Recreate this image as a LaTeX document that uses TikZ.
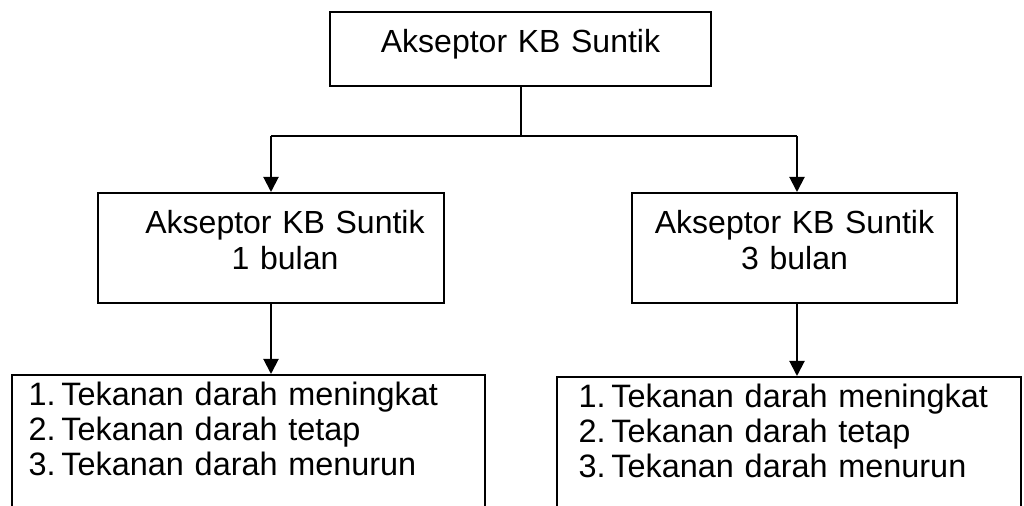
\documentclass[tikz,border=0pt]{standalone}
\usepackage{fontspec}
\setmainfont{Liberation Sans}
\usetikzlibrary{arrows.meta}
\usetikzlibrary{positioning}
\newcommand*{\midfont}{\fontsize{16}{18}\selectfont}
\newcommand*{\listfont}{\fontsize{16.2}{17.5}\selectfont}
\newcommand*{\numitem}[2]{\makebox[16.5pt][l]{#1}#2}
\tikzstyle{tbox}=[draw=black, line width=1pt, rectangle, inner sep=0pt]
\tikzstyle{listbox}=[tbox, align=left, font=\listfont, text height=11.5pt, text depth=80.5pt, minimum height=100pt]
\tikzstyle{panah}=[line width=1pt, -{Triangle[length=7.5pt,width=7.5pt]}]

\begin{document}
\begin{tikzpicture}[x=0.5pt, y=-0.5pt]
    \useasboundingbox (0,0) rectangle (1024,506);
    \fill [white] (0,0) rectangle (1024,506);
    \clip (0,0) rectangle (1024,506);
        % kotak atas
        \node (akseptor) [tbox, text width=190.5pt, align=center, font=\midfont,
            text height=11.5pt, text depth=7.5pt, minimum height=37pt] at (520.5,49) {Akseptor KB Suntik};
        % kotak tengah
        \node (satu) [tbox, text width=173pt, align=center, font=\midfont,
            text height=11.5pt, text depth=25.5pt, minimum height=55pt] at (271,248)
            {\hspace*{14pt}Akseptor KB Suntik\\\hspace*{14pt}1 bulan};
        \node (tiga) [tbox, text width=162.5pt, align=center, font=\midfont,
            text height=11.5pt, text depth=25.5pt, minimum height=55pt] at (794.5,248)
            {Akseptor KB Suntik\\3 bulan};
        % kotak bawah (terpotong di bawah)
        \node (hasilsatu) [listbox, text width=220pt, inner xsep=8.25pt] at (248.5,475)
            {\numitem{1.}{Tekanan darah meningkat}\\\numitem{2.}{Tekanan darah tetap}\\\numitem{3.}{Tekanan darah menurun}};
        \node (hasiltiga) [listbox, text width=210.5pt, inner xsep=10.75pt] at (789,477)
            {\numitem{1.}{Tekanan darah meningkat}\\\numitem{2.}{Tekanan darah tetap}\\\numitem{3.}{Tekanan darah menurun}};
        % garis cabang
        \coordinate (kiri) at (271,136);
        \coordinate (kanan) at (797,136);
        \draw [line width=1pt] (akseptor.south) -- (akseptor.south |- kiri);
        \draw [line width=1pt] (kiri) -- (kanan);
        \draw [panah] (kiri) -- (satu.north);
        \draw [panah] (kanan) -- (kanan |- tiga.north);
        \draw [panah] (satu.south) -- (satu.south |- hasilsatu.north);
        \draw [panah] (kanan |- tiga.south) -- (kanan |- hasiltiga.north);
\end{tikzpicture}
\end{document}
